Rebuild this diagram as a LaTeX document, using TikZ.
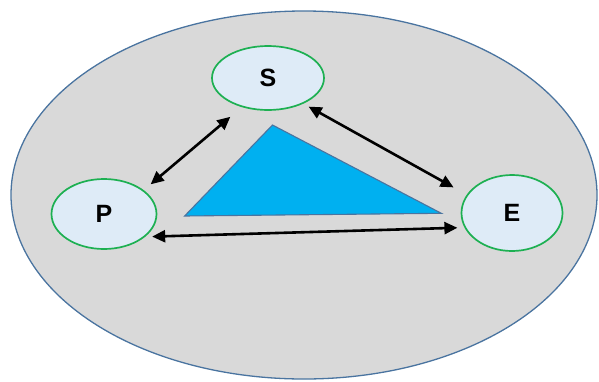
\documentclass[tikz,border=0pt]{standalone}
\usepackage{fontspec}
\setmainfont{Liberation Sans}
\usepackage{xcolor}
\usepackage{tikz}
\usetikzlibrary{arrows.meta, shapes.geometric}

\definecolor{bgfill}{HTML}{D9D9D9}
\definecolor{bgline}{HTML}{4A74A0}
\definecolor{entfill}{HTML}{DEEBF7}
\definecolor{entline}{HTML}{1DB052}
\definecolor{trifill}{HTML}{00B0F0}

\begin{document}
\begin{tikzpicture}[x=1pt, y=-1pt, >={Triangle[length=13pt, width=12pt]},
  every node/.style={font=\bfseries\fontsize{25}{25}\selectfont},
  ent/.style={ellipse, draw=entline, line width=1.7pt, fill=entfill, inner sep=0pt},
  link/.style={<->, line width=2.6pt}]
\useasboundingbox (0,0) rectangle (599,381);

% outer region and the triangle in the middle
\filldraw[fill=bgfill, draw=bgline, line width=1.3pt] (304,195) ellipse [x radius=293pt, y radius=184pt];
\filldraw[fill=trifill, draw=bgline, line width=1.1pt] (272.5,125) -- (184.6,216) -- (441.3,213.3) -- cycle;

\node[ent, minimum width=112pt, minimum height=64pt] (S) at (268,78) {S};
\node[ent, minimum width=105pt, minimum height=70pt] (P) at (104,214) {P};
\node[ent, minimum width=101pt, minimum height=76pt] (E) at (512,213) {E};

\draw[link, shorten <=9pt, shorten >=15pt] (P.31) -- (S.228);
\draw[link, shorten <=6pt, shorten >=15pt] (S.324) -- (E.158);
\draw[link, shorten <=7pt, shorten >=7pt] (P.331) -- (E.197);
\end{tikzpicture}
\end{document}
